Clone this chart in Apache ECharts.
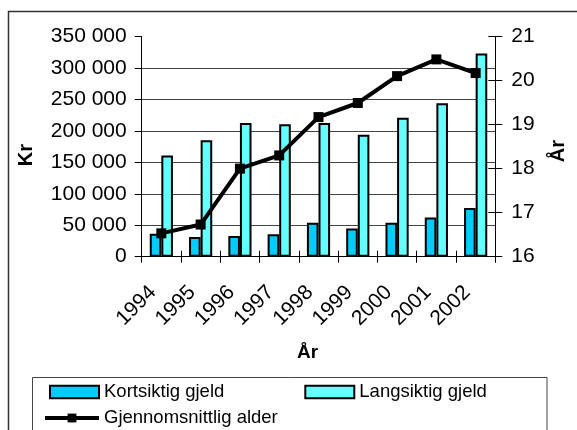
<!DOCTYPE html>
<html>
<head>
<meta charset="utf-8">
<script src="https://cdn.jsdelivr.net/npm/echarts@6/dist/echarts.min.js"></script>
<style>
html,body{margin:0;padding:0;background:#fff;}
#chart{width:577px;height:430px;}
</style>
</head>
<body>
<div id="chart"></div>
<script>
var years = ['1994','1995','1996','1997','1998','1999','2000','2001','2002'];
var kortsiktig = [36500, 31200, 32800, 35500, 54000, 45000, 54000, 62500, 77300];
var langsiktig = [161000, 185000, 212700, 210600, 212700, 193700, 221000, 244000, 322800];
var alder = [16.53, 16.73, 18.0, 18.30, 19.17, 19.49, 20.10, 20.48, 20.17];
var leftTicks = [0, 350000, 50000];
var rightTicks = [16, 21, 1];

var FONT = 'Liberation Sans, Arial, sans-serif';
var chart = echarts.init(document.getElementById('chart'), null, {renderer: 'canvas'});

function fmtThousands(v) {
  return String(v).replace(/\B(?=(\d{3})+(?!\d))/g, ' ');
}

var option = {
  animation: false,
  backgroundColor: '#fff',
  textStyle: {fontFamily: FONT, color: '#000'},
  graphic: [
    {type: 'rect', z: -10, shape: {x: 8.5, y: 11.5, width: 620, height: 460},
     style: {fill: 'none', stroke: '#333', lineWidth: 1.5}},
    {type: 'rect', z: -10, shape: {x: 32.5, y: 377.5, width: 514.5, height: 80},
     style: {fill: 'none', stroke: '#444', lineWidth: 1}}
  ],
  grid: {left: 141.7, right: 81.7, top: 36.5, bottom: 173.3, containLabel: false},
  legend: [
    {
      data: ['Kortsiktig gjeld', 'Langsiktig gjeld'],
      left: 49, top: 382, orient: 'horizontal', padding: 0,
      itemWidth: 49, itemHeight: 12.7, itemGap: 80,
      icon: 'rect',
      textStyle: {fontFamily: FONT, fontSize: 18.5, color: '#000', lineHeight: 20}
    },
    {
      data: ['Gjennomsnittlig alder'],
      left: 43, top: 408, orient: 'horizontal', padding: 0,
      itemWidth: 54, itemHeight: 11,
      lineStyle: {width: 4, color: '#000'},
      textStyle: {fontFamily: FONT, fontSize: 18.5, color: '#000', lineHeight: 20}
    }
  ],
  xAxis: [
    {
      type: 'category', data: years, position: 'bottom',
      name: 'År', nameLocation: 'middle', nameGap: 87,
      nameTextStyle: {fontFamily: FONT, fontSize: 19, fontWeight: 'bold', color: '#000', padding: [0, 22, 0, 0]},
      axisLine: {show: true, lineStyle: {color: '#000', width: 1}},
      axisTick: {show: true, inside: false, length: 6, lineStyle: {color: '#000'}},
      axisLabel: {rotate: 45, margin: 24, fontFamily: FONT, fontSize: 21, color: '#000', padding: [0, 12, 0, 0]},
      splitLine: {show: false}
    },
    {
      type: 'category', data: years, position: 'bottom',
      axisLine: {show: false},
      axisTick: {show: true, inside: true, length: 6, lineStyle: {color: '#000'}},
      axisLabel: {show: false},
      splitLine: {show: false}
    }
  ],
  yAxis: [
    {
      type: 'value', position: 'left',
      min: leftTicks[0], max: leftTicks[1], interval: leftTicks[2],
      name: 'Kr', nameLocation: 'middle', nameRotate: 90, nameGap: 105,
      nameTextStyle: {fontFamily: FONT, fontSize: 20, fontWeight: 'bold', color: '#000', padding: [0, 17, 0, 0]},
      axisLine: {show: true, lineStyle: {color: '#000', width: 1}},
      axisTick: {show: true, inside: false, length: 7, lineStyle: {color: '#000'}},
      axisLabel: {margin: 15, fontFamily: FONT, fontSize: 21, color: '#000', formatter: fmtThousands},
      splitLine: {show: true, showMaxLine: false, lineStyle: {color: '#444', width: 1}}
    },
    {
      type: 'value', position: 'right',
      min: rightTicks[0], max: rightTicks[1], interval: rightTicks[2],
      name: 'År', nameLocation: 'middle', nameRotate: 90, nameGap: 53,
      nameTextStyle: {fontFamily: FONT, fontSize: 20, fontWeight: 'bold', color: '#000', padding: [0, 9, 0, 0]},
      axisLine: {show: true, lineStyle: {color: '#000', width: 1}},
      axisTick: {show: true, inside: false, length: 7, lineStyle: {color: '#000'}},
      axisLabel: {margin: 16, fontFamily: FONT, fontSize: 21, color: '#000'},
      splitLine: {show: false}
    },
    {
      type: 'value', position: 'right',
      min: rightTicks[0], max: rightTicks[1], interval: rightTicks[2],
      axisLine: {show: false},
      axisTick: {show: true, inside: true, length: 7, lineStyle: {color: '#000'}},
      axisLabel: {show: false},
      splitLine: {show: false}
    }
  ],
  series: [
    {
      name: 'Kortsiktig gjeld', type: 'bar', xAxisIndex: 0, yAxisIndex: 0,
      data: kortsiktig, barGap: '0%', barCategoryGap: '41%',
      itemStyle: {color: '#00CCFF', borderColor: '#000', borderWidth: 2}
    },
    {
      name: 'Langsiktig gjeld', type: 'bar', xAxisIndex: 0, yAxisIndex: 0,
      data: langsiktig, barGap: '0%', barCategoryGap: '41%',
      itemStyle: {color: '#66FFFF', borderColor: '#000', borderWidth: 2}
    },
    {
      name: 'Gjennomsnittlig alder', type: 'line', xAxisIndex: 0, yAxisIndex: 1,
      data: alder, z: 5,
      symbol: 'rect', symbolSize: 10, showAllSymbol: true,
      lineStyle: {color: '#000', width: 4},
      itemStyle: {color: '#000'}
    }
  ]
};
chart.setOption(option);
</script>
</body>
</html>
